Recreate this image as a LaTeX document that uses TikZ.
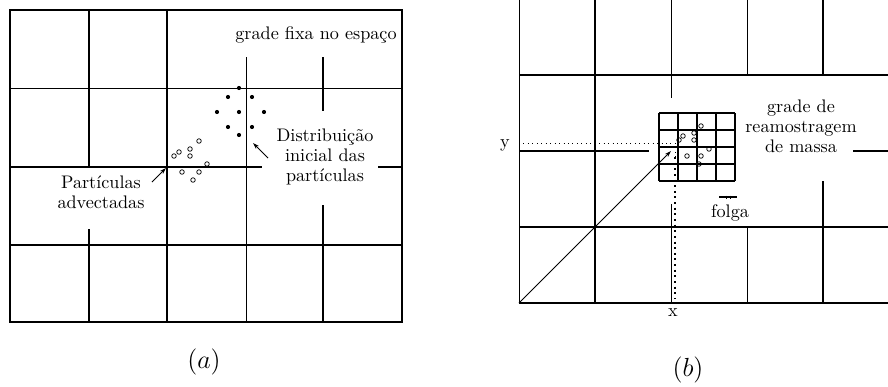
\documentclass[tikz,border=0pt]{standalone}
\usetikzlibrary{arrows.meta}
\begin{document}
\begin{tikzpicture}[x=0.55pt,y=-0.55pt,
  thickl/.style={line width=0.85pt},
  thinl/.style={line width=0.45pt},
  lbl/.style={font=\fontsize{10}{11}\selectfont, align=center, inner sep=0pt},
  captext/.style={font=\fontsize{14}{16}\selectfont, inner sep=0pt},
  pin/.style={line width=0.4pt,-{Stealth[length=3.5pt,width=2.2pt]}}]
\useasboundingbox (0,0) rectangle (888,386);

% ---------- panel (a) ----------
\draw[thickl] (10,10) rectangle (402,322);
\draw[thickl] (89,10)--(89,167) (89,229)--(89,322);
\draw[thickl] (167,10)--(167,322);
\draw[thinl] (246,57)--(246,322);
\draw[thickl] (323,57)--(323,111) (323,205)--(323,322);
\draw[thinl] (10,88)--(402,88);
\draw[thickl] (10,167)--(262,167) (378,167)--(402,167);
\draw[thickl] (10,245)--(402,245);

\foreach \p in {(239,88),(228,97),(252,97),(217,112),(239,112),(264,112),(228,127),(252,127),(239,135)}
  \fill \p circle[radius=1.15pt];
\foreach \p in {(174,156),(179,152),(190,149),(190,156),(199,141),(207,164),(182,172),(199,172),(193,180)}
  \draw[line width=0.4pt] \p circle[radius=1.25pt];

\node[lbl] (gf) at (316,35) {grade fixa no espaço};
\node[lbl] (di) at (325,157) {Distribuição\\inicial das\\partículas};
\node[lbl] (pa) at (101,192) {Partículas\\advectadas};
\coordinate (pa1) at (152,182);
\coordinate (pa2) at (166,168);
\draw[pin] (pa1)--(pa2);
\coordinate (di1) at (268,158);
\coordinate (di2) at (253,143);
\draw[pin] (di1)--(di2);
\node[captext] (la) at (204,362) {$(a)$};

% ---------- panel (b) ----------
\draw[thinl] (519,0)--(519,303);
\draw[thickl] (595,0)--(595,303);
\draw[thinl] (671,0)--(671,98) (671,204)--(671,303);
\draw[thinl] (747,0)--(747,75) (747,227)--(747,303);
\draw[thickl] (823,0)--(823,75) (823,181)--(823,303);
\draw[thickl] (519,75)--(888,75);
\draw[thickl] (519,151)--(649,151) (853,151)--(888,151);
\draw[thickl] (519,227)--(888,227);
\draw[thickl] (519,303)--(888,303);

\foreach \i in {0,...,4} {
  \draw[thickl] (659+19*\i,113)--(659+19*\i,181);
  \draw[thickl] (659,113+17*\i)--(735,113+17*\i);
}

\coordinate (ys) at (519,143);
\coordinate (ye) at (676,143);
\draw[thinl, dotted] (ys)--(ye);
\coordinate (xs) at (675,143);
\coordinate (xm) at (675,157);
\coordinate (xe) at (675,299);
\draw[thinl, dotted] (xs)--(xm);
\draw[line width=1.1pt, dotted] (xm)--(xe);

\coordinate (o) at (519,303);
\coordinate (p) at (671,151);
\draw[pin] (o)--(p);

\foreach \p in {(701,126),(683,136),(679,140),(694,133),(694,140),(709,149),(687,156),(701,156),(699,164)}
  \draw[line width=0.4pt] \p circle[radius=1.25pt];

\coordinate (f1) at (719,197);
\coordinate (f2) at (737,197);
\draw[line width=0.85pt] (f1)--(f2);
\draw[line width=0.4pt] (726,195.5)--(726,198.5) (730,195.5)--(730,198.5);

\node[lbl] (gr) at (801,126) {grade de\\reamostragem\\de massa};
\node[lbl] (fo) at (730,213) {folga};
\node[lbl] (ly) at (505,145) {y};
\node[lbl] (lx) at (673,313) {x};
\node[captext] (lb) at (688,370) {$(b)$};
\end{tikzpicture}
\end{document}
